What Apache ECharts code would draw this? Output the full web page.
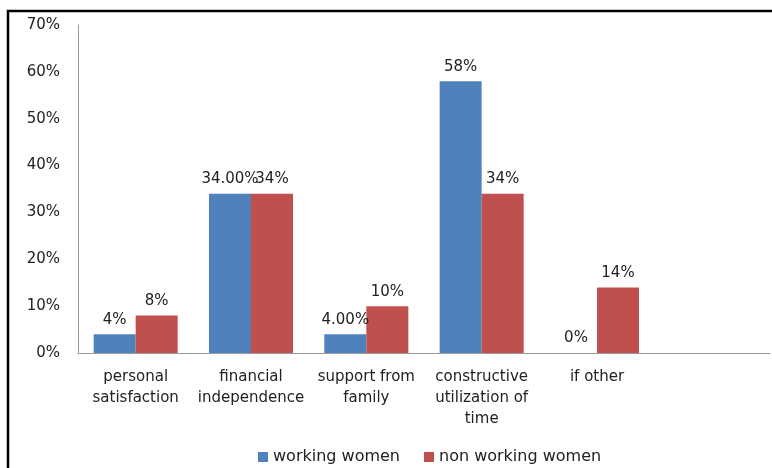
<!DOCTYPE html>
<html>
<head>
<meta charset="utf-8">
<script src="https://cdn.jsdelivr.net/npm/echarts@6/dist/echarts.min.js"></script>
<style>
  html, body { margin: 0; padding: 0; background: #fff; }
  #chart { width: 772px; height: 468px; }
</style>
</head>
<body>
<div id="chart"></div>
<script>
// Reasons for working, by group (percent of respondents)
const categories = [
  'personal\nsatisfaction',
  'financial\nindependence',
  'support from\nfamily',
  'constructive\nutilization of\ntime',
  'if other',
  ''
];
const workingValues = [4, 34, 4, 58, 0, null];
const workingLabels = ['4%', '34.00%', '4.00%', '58%', '0%', ''];
const nonWorkingValues = [8, 34, 10, 34, 14, null];
const nonWorkingLabels = ['8%', '34%', '10%', '34%', '14%', ''];
const yTicks = { min: 0, max: 70, step: 10 };

const FONT = '"DejaVu Sans", sans-serif';
const TEXT = '#222';

const chart = echarts.init(document.getElementById('chart'), null, { renderer: 'canvas' });

function labelFor(texts) {
  return {
    show: true,
    position: 'top',
    distance: 7,
    color: TEXT,
    fontFamily: FONT,
    fontSize: 15,
    formatter: p => texts[p.dataIndex]
  };
}

chart.setOption({
  animation: false,
  backgroundColor: '#fff',
  grid: { left: 78, right: 2, top: 25, bottom: 115, containLabel: false },
  legend: {
    top: 444,
    left: 253,
    itemWidth: 10,
    itemHeight: 10,
    itemGap: 24,
    icon: 'rect',
    textStyle: { color: TEXT, fontFamily: FONT, fontSize: 16 },
    data: ['working women', 'non working women']
  },
  xAxis: {
    type: 'category',
    data: categories,
    axisLine: { lineStyle: { color: '#9a9a9a', width: 1 } },
    axisTick: { show: false },
    axisLabel: {
      color: TEXT,
      fontFamily: FONT,
      fontSize: 15,
      lineHeight: 21,
      margin: 14,
      interval: 0
    }
  },
  yAxis: {
    type: 'value',
    min: yTicks.min,
    max: yTicks.max,
    interval: yTicks.step,
    axisLine: { show: true, lineStyle: { color: '#9a9a9a', width: 1 } },
    axisTick: { show: false },
    splitLine: { show: false },
    axisLabel: {
      color: TEXT,
      fontFamily: FONT,
      fontSize: 15,
      margin: 18,
      formatter: '{value}%'
    }
  },
  series: [
    {
      name: 'working women',
      type: 'bar',
      data: workingValues,
      barWidth: 42,
      barGap: '0%',
      itemStyle: { color: '#4F81BD' },
      label: labelFor(workingLabels)
    },
    {
      name: 'non working women',
      type: 'bar',
      data: nonWorkingValues,
      barWidth: 42,
      barGap: '0%',
      itemStyle: { color: '#C0504D' },
      label: labelFor(nonWorkingLabels)
    }
  ],
  graphic: [
    {
      type: 'polyline',
      silent: true,
      shape: { points: [[8, 468], [8, 11], [772, 11]] },
      style: { stroke: '#000', lineWidth: 2.5, fill: null }
    }
  ]
});
</script>
</body>
</html>
